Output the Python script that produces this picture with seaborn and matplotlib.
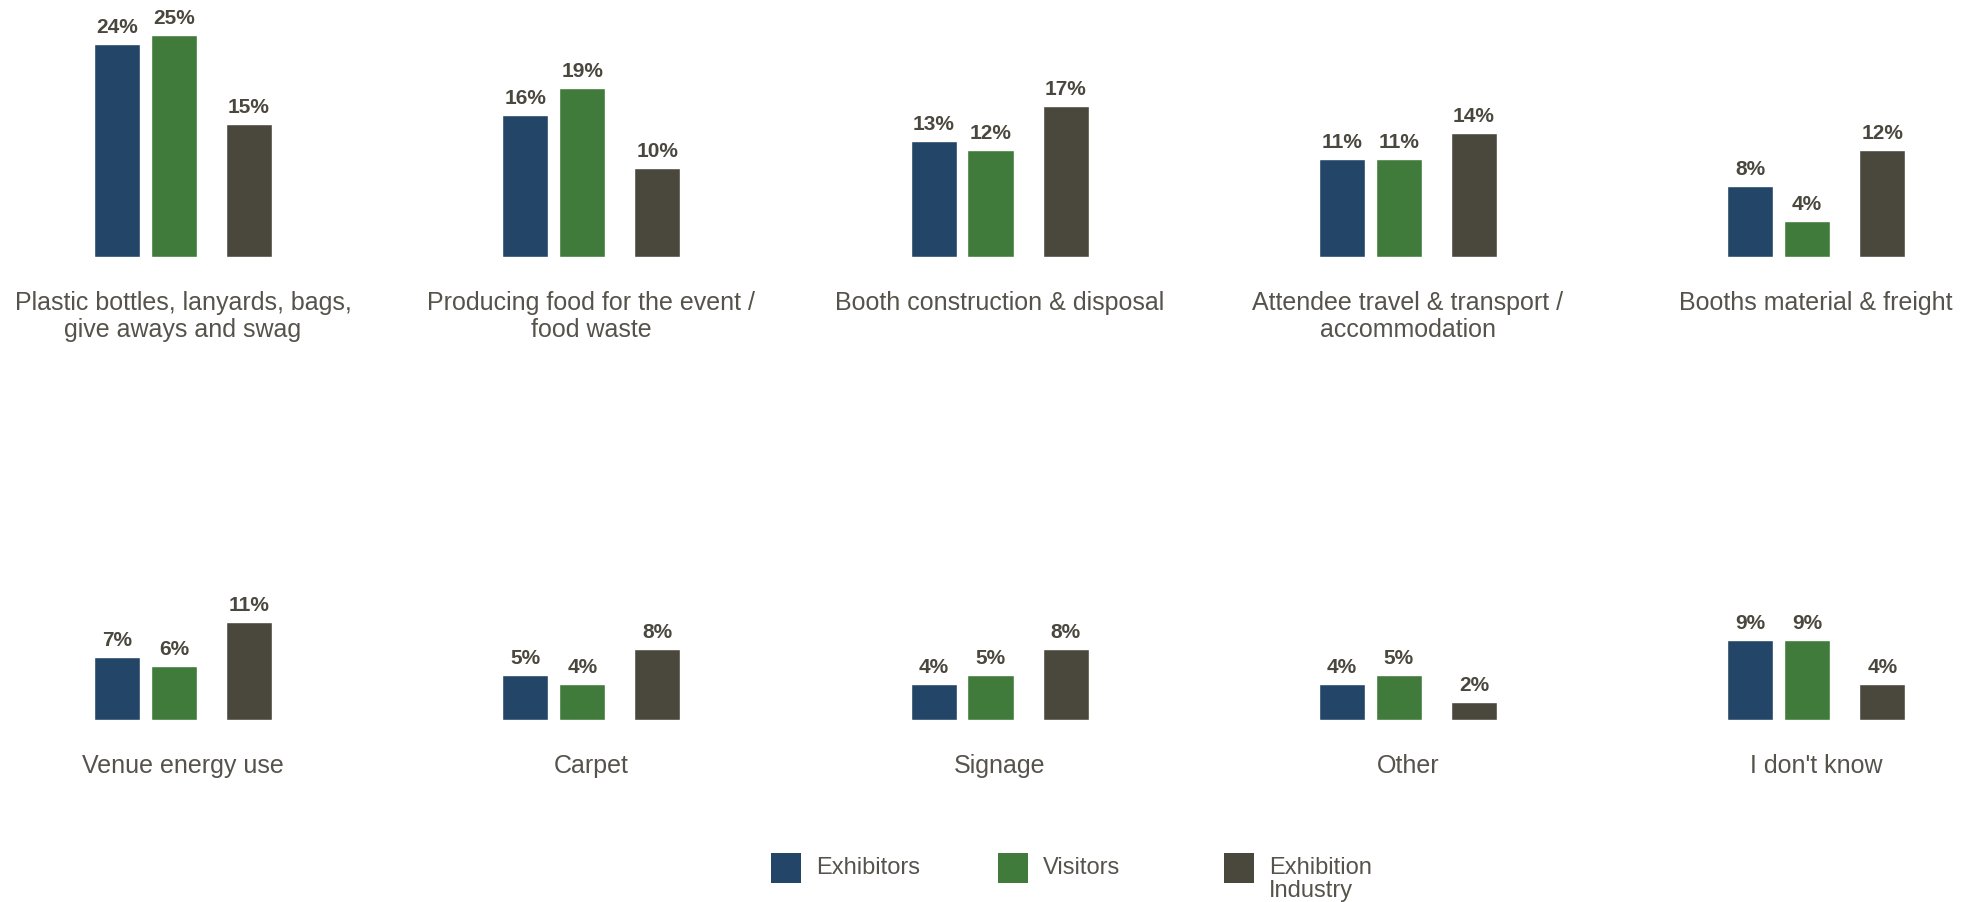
import matplotlib
matplotlib.use("Agg")
import matplotlib.pyplot as plt
from matplotlib.patches import Rectangle
import seaborn as sns
import pandas as pd

categories = [
    "Plastic bottles, lanyards, bags,\ngive aways and swag",
    "Producing food for the event /\nfood waste",
    "Booth construction & disposal",
    "Attendee travel & transport /\naccommodation",
    "Booths material & freight",
    "Venue energy use",
    "Carpet",
    "Signage",
    "Other",
    "I don't know",
]
series = ["Exhibitors", "Visitors", "Exhibition\nIndustry"]
exhibitors = [24, 16, 13, 11, 8, 7, 5, 4, 4, 9]
visitors = [25, 19, 12, 11, 4, 6, 4, 5, 5, 9]
industry = [15, 10, 17, 14, 12, 11, 8, 8, 2, 4]

colors = ["#234567", "#417b3b", "#4a483c"]
bar_pos = [0.0, 1.0, 2.32]
value_color = "#4a483e"
label_color = "#55534b"

sns.set_theme(style="white")
plt.rcParams["font.family"] = ["Liberation Sans", "DejaVu Sans"]

W, H = 1968, 903
fig = plt.figure(figsize=(W / 100, H / 100), dpi=100)

unit_px = 56.9
px_per_pct = 8.86
x_lo, x_hi = -1.34, 3.66
ymax = 28
ax_w = (x_hi - x_lo) * unit_px
ax_h = ymax * px_per_pct
first_left = 117.0 + x_lo * unit_px
col_step = 408.3
baselines = [257.6, 720.5]

all_vals = list(zip(exhibitors, visitors, industry))
for i, cat in enumerate(categories):
    row, col = divmod(i, 5)
    left = first_left + col * col_step
    bottom = H - baselines[row]
    ax = fig.add_axes([left / W, bottom / H, ax_w / W, ax_h / H])
    df = pd.DataFrame({
        "pos": bar_pos,
        "value": list(all_vals[i]),
        "series": series,
    })
    sns.barplot(data=df, x="pos", y="value", hue="series", hue_order=series,
                palette=colors, native_scale=True, dodge=False, width=0.81,
                saturation=1, legend=False, ax=ax)
    for c in ax.containers:
        ax.bar_label(c, fmt="{:.0f}%", padding=5.8, fontsize=15,
                     fontweight="bold", color=value_color, clip_on=False)
    ax.set_xlim(x_lo, x_hi)
    ax.set_ylim(0, ymax)
    ax.axis("off")
    ax.annotate(cat, xy=(0.5, 0), xycoords="axes fraction",
                xytext=(0, -24.0), textcoords="offset points",
                ha="center", va="top", fontsize=18, color=label_color,
                linespacing=1.16, annotation_clip=False)

# legend (manual layout so entries sit exactly as in the reference)
leg_sq_left = [771, 998, 1224]
leg_sq_top = 854
leg_sq = 30
leg_text_dx = 45
leg_text_top = 857.5
for j, name in enumerate(series):
    x0 = leg_sq_left[j]
    fig.add_artist(Rectangle((x0 / W, (H - leg_sq_top - leg_sq) / H),
                             leg_sq / W, leg_sq / H, transform=fig.transFigure,
                             facecolor=colors[j], edgecolor="none"))
    fig.text((x0 + leg_text_dx) / W, (H - leg_text_top) / H, name,
             ha="left", va="top", fontsize=17, color=label_color,
             linespacing=1.05)

fig.savefig("out.png", dpi=100, facecolor="white")
